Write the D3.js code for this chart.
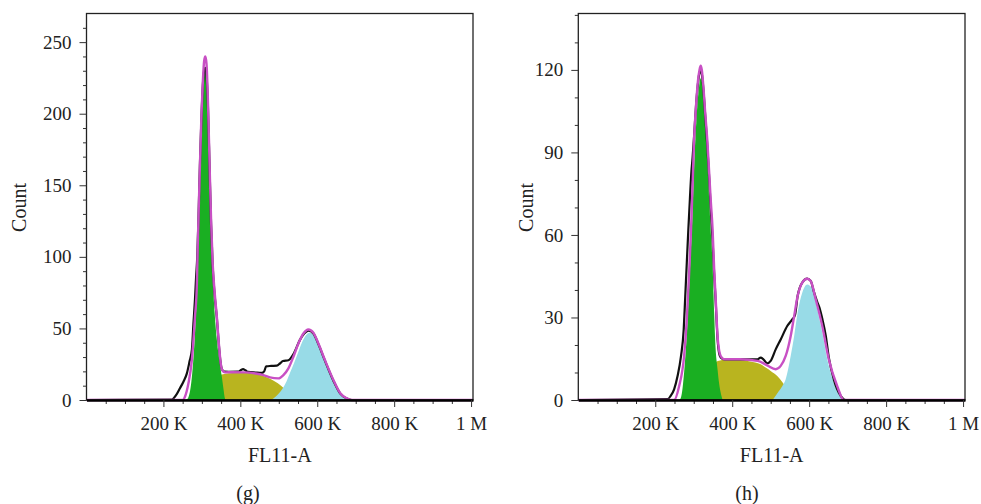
<!DOCTYPE html>
<html>
<head>
<meta charset="utf-8">
<script src="https://cdn.jsdelivr.net/npm/d3@7"></script>
<style>
  body { margin: 0; background: #fff; }
  svg { display: block; font-family: 'Liberation Serif', 'Times New Roman', serif; }
</style>
</head>
<body>
<svg id="chart" width="981" height="504"></svg>
<script>
// FL11-A in thousands (K), Count per channel
const xTicks = [200, 400, 600, 800, 1000]
const xTickLabels = ['200 K', '400 K', '600 K', '800 K', '1 M']
const xMinorTicks = [50, 100, 150, 250, 300, 350, 450, 500, 550, 650, 700, 750, 850, 900, 950]

const gYTicks = [0, 50, 100, 150, 200, 250]
const hYTicks = [0, 30, 60, 90, 120]

// panel (g)
const gRaw = [[0,0],[222,0.3],[232,3],[243,8.2],[252,12.8],[261,18.6],[268,27],[274,35],[278,53],[282,70],[285,86],[288,100],[291,125],[295,165],[299,198],[303,222],[306,230],[309,232],[312,227],[316,203],[320,162],[324,122],[328,94],[333,74],[339,57],[344,39],[348,27.5],[352,21.5],[358,19.8],[370,19.7],[395,19.8],[402,21],[407,21.5],[413,20.8],[420,19.6],[440,19.2],[456,19],[462,20],[467,23.5],[480,23.8],[495,24],[503,25.5],[511,27.2],[525,27.8],[540,33],[555,42],[566,46.5],[577,48.5],[590,46.5],[603,39],[620,27.5],[642,13.5],[660,4.5],[677,1],[690,0],[1005,0]]
const gFit = [[0,0],[250,0],[256,2.3],[265,11.6],[274,28],[282,58],[287,81],[289,105],[294,155],[299,200],[303,225],[306,237],[309,240],[312,235],[316,207],[320,165],[324,125],[328,96],[333,76],[339,58],[344,40],[348,28],[352,21.5],[360,19.3],[380,19.4],[410,19.3],[440,18.5],[460,17.4],[477,15.8],[499,15.1],[512,17.4],[525,22.1],[538,30.2],[551,39.5],[564,46.5],[577,49.3],[590,47],[603,39.5],[620,27.9],[642,14],[660,4.7],[677,1.2],[690,0],[1005,0]]
const gG1 = [[258,0],[265,2],[274,16],[282,46],[288,81],[291,105],[296,150],[300,190],[304,218],[308,230],[312,226],[316,203],[320,158],[323,120],[326,95],[331,70],[339,42],[347,25],[352,16],[356,8],[360,1],[362,0]]
const gS = [[300,0],[312,10],[325,15],[340,17],[352,17.8],[370,18.6],[390,19],[410,19.2],[430,18.7],[450,17.6],[470,15.8],[490,13],[505,10.2],[520,6.5],[535,3],[548,0]]
const gG2 = [[480,0],[490,2],[500,4.5],[510,8],[520,13],[530,19.5],[540,26],[550,33],[560,40],[570,45],[580,47],[590,45.5],[600,41],[610,34.5],[620,27.5],[630,20.5],[640,14],[650,8.5],[660,5],[670,2],[678,0]]

// panel (h)
const hRaw = [[0,0],[232,0.3],[240,1.5],[249,3.9],[258,8.7],[267,16],[274,25.7],[278,37.8],[282,50],[286,62],[290,73],[294,83],[297,88],[301,96],[306,107],[311,115],[315,119],[318,119.6],[321,118.5],[325,113],[330,103],[335,93],[340,81],[344,70],[349,58],[353,46],[357,36],[362,22],[366,17],[370,15.5],[380,14.8],[420,14.8],[466,14.8],[474,15.4],[481,14.8],[491,13.3],[500,14.2],[513,18.4],[526,22],[543,26.9],[556,29.3],[563,30.8],[570,37.8],[582,42.7],[595,44.1],[604,43.3],[612,39.5],[620,36],[628,33],[634,29.6],[643,23.5],[651,15.5],[664,7.5],[682,1.5],[695,0],[1005,0]]
const hFit = [[0,0],[249,0],[262,5],[275,16],[282,29.3],[288,46],[293,62],[297,78],[301,95],[306,107],[311,116],[315,120],[318,121.5],[321,120],[325,114],[330,104],[335,95],[340,83],[344,73],[349,62],[353,48],[357,37],[362,23],[366,18],[370,16],[380,14.8],[420,14.8],[466,14.2],[491,12.6],[513,11.2],[526,12.4],[539,16],[552,23.3],[561,30.5],[570,37.8],[582,42.7],[595,44.1],[604,43.3],[617,36.6],[634,26.9],[651,14.8],[673,5],[690,0],[1005,0]]
const hG1 = [[262,0],[267,1],[275,10],[284,29],[291,50],[296,65],[302,88],[308,104],[314,114],[318,117],[323,114],[329,104],[335,88],[340,73],[344,62],[349,49],[353,32],[356,21],[362,11],[366,6],[370,2.7],[375,0]]
const hS = [[300,0],[320,8],[340,12],[357,13.8],[380,14.6],[400,14.8],[420,14.7],[440,14.2],[460,13.6],[474,13],[490,11.5],[500,10.5],[517,8.7],[530,6.5],[545,3.5],[560,0]]
const hG2 = [[505,0],[520,3],[530,5],[539,7.5],[552,16],[561,23.3],[570,31.8],[582,39],[595,42],[609,40.3],[621,33],[634,24.5],[647,14.8],[664,6.3],[682,0.9],[688,0]]

const colors = {s: '#b9b41f', g1: '#1aaf22', g2: '#98dbe7', raw: '#111', fit: '#c850c4'}

const svg = d3.select('#chart')

const panels = [
  {left: 86.5, right: 473, yMax: 270, yTicks: gYTicks, raw: gRaw, fit: gFit, g1: gG1, s: gS, g2: gG2,
   countX: 25.5, caption: '(g)', captionX: 248},
  {left: 578.3, right: 965, yMax: 140.5, yTicks: hYTicks, raw: hRaw, fit: hFit, g1: hG1, s: hS, g2: hG2,
   countX: 532.5, caption: '(h)', captionX: 747}
]

panels.forEach(p => drawPanel(p))

function drawPanel(p) {
  const x = d3.scaleLinear().domain([0, 1005]).range([p.left, p.right])
  const y = d3.scaleLinear().domain([0, p.yMax]).range([400, 13.5])
  const g = svg.append('g')

  const area = d3.area()
    .x(d => x(d[0]))
    .y0(y(0))
    .y1(d => y(d[1]))
    .curve(d3.curveMonotoneX)

  const line = d3.line()
    .x(d => x(d[0]))
    .y(d => y(d[1]))
    .curve(d3.curveMonotoneX)

  // fills: S phase under G1 and G2
  g.append('path').datum(p.s).attr('d', area).attr('fill', colors.s)
  g.append('path').datum(p.g1).attr('d', area).attr('fill', colors.g1)
  g.append('path').datum(p.g2).attr('d', area).attr('fill', colors.g2)

  g.append('path').datum(p.raw).attr('d', line)
    .attr('fill', 'none').attr('stroke', colors.raw).attr('stroke-width', 2.2)
  g.append('path').datum(p.fit).attr('d', line)
    .attr('fill', 'none').attr('stroke', colors.fit).attr('stroke-width', 2.4)

  // frame
  g.append('rect')
    .attr('x', x.range()[0])
    .attr('y', y.range()[1])
    .attr('width', x.range()[1] - x.range()[0])
    .attr('height', y.range()[0] - y.range()[1])
    .attr('fill', 'none')
    .attr('stroke', '#222')
    .attr('stroke-width', 1.3)

  // y axis
  const yMinor = d3.range(10, p.yMax, 10).filter(v => !p.yTicks.includes(v))
  g.append('g')
    .attr('transform', `translate(${x.range()[0]},0)`)
    .call(d3.axisLeft(y).tickValues(yMinor).tickSize(3.5).tickFormat(''))
    .call(a => a.select('.domain').remove())

  g.append('g')
    .attr('class', 'y axis')
    .attr('transform', `translate(${x.range()[0]},0)`)
    .call(d3.axisLeft(y).tickValues(p.yTicks).tickSize(7).tickPadding(8))
    .call(a => a.select('.domain').remove())

  // x axis
  g.append('g')
    .attr('transform', `translate(0,${y(0)})`)
    .call(d3.axisBottom(x).tickValues(xMinorTicks).tickSize(4).tickFormat(''))
    .call(a => a.select('.domain').remove())

  g.append('g')
    .attr('class', 'x axis')
    .attr('transform', `translate(0,${y(0)})`)
    .call(d3.axisBottom(x).tickValues(xTicks).tickSize(7).tickPadding(10).tickSizeOuter(0)
      .tickFormat((d, i) => xTickLabels[i]))
    .call(a => a.select('.domain').attr('stroke', '#000').attr('stroke-width', 2.6))

  g.selectAll('.tick line').attr('stroke', '#333')
  g.selectAll('.tick text')
    .attr('font-family', "'Liberation Serif', serif")
    .attr('font-size', '19px')
    .attr('fill', '#222')

  // labels
  g.append('text')
    .attr('x', (x.range()[0] + x.range()[1]) / 2)
    .attr('y', 461.7)
    .attr('text-anchor', 'middle')
    .attr('font-size', '20px')
    .attr('fill', '#222')
    .text('FL11-A')

  g.append('text')
    .attr('transform', `translate(${p.countX},207.5) rotate(-90)`)
    .attr('text-anchor', 'middle')
    .attr('font-size', '20px')
    .attr('fill', '#222')
    .text('Count')

  g.append('text')
    .attr('x', p.captionX)
    .attr('y', 499.5)
    .attr('text-anchor', 'middle')
    .attr('font-size', '20px')
    .attr('fill', '#222')
    .text(p.caption)
}
</script>
</body>
</html>
